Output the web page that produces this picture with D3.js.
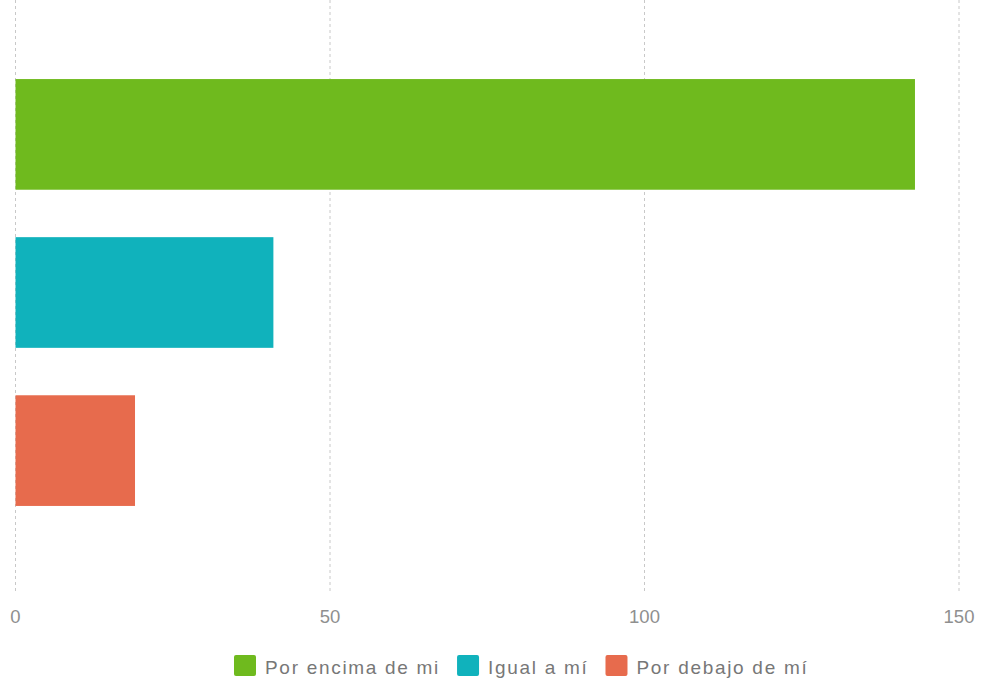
<!DOCTYPE html>
<head>
  <meta charset="utf-8">
  <script src="https://d3js.org/d3.v7.min.js"></script>
</head>
<style>
  body { margin: 0; background: #fff; font-family: "Liberation Sans", Arial, sans-serif; }
  .grid line { stroke: #c8c8c8; stroke-dasharray: 3,3; }
  .ticks text { fill: #8f8f8f; font-size: 18.5px; }
  .legend text { fill: #777; font-size: 19px; letter-spacing: 1.7px; }
</style>
<body>
<div id="chart"></div>
<script>
var categories = ["Por encima de mi", "Igual a mí", "Por debajo de mí"];
var values = [143, 41, 19];
var colors = ["#6fba1e", "#10b2bc", "#e76b4d"];
var xTicks = [0, 50, 100, 150];

var width = 981, height = 681;
var left = 15.5, right = 959, plotTop = 0, plotBottom = 593;

var svg = d3.select("#chart").append("svg")
  .attr("width", width).attr("height", height);

var x = d3.scaleLinear().domain([0, 150]).range([left, right]);
var y = d3.scaleBand().domain(categories).range([plotTop, 585]).paddingInner(0.3).paddingOuter(0.5);

// dashed vertical grid
svg.append("g").attr("class", "grid")
  .selectAll("line").data(xTicks).enter().append("line")
  .attr("x1", d => x(d)).attr("x2", d => x(d))
  .attr("y1", plotTop).attr("y2", plotBottom);

// tick labels
svg.append("g").attr("class", "ticks")
  .selectAll("text").data(xTicks).enter().append("text")
  .attr("x", d => x(d)).attr("y", 623)
  .attr("text-anchor", "middle")
  .text(d => d);

// bars
svg.append("g").selectAll("rect").data(values).enter().append("rect")
  .attr("x", x(0))
  .attr("y", (d, i) => y(categories[i]))
  .attr("width", d => x(d) - x(0))
  .attr("height", y.bandwidth())
  .attr("fill", (d, i) => colors[i]);

// legend, laid out left to right
var legend = svg.append("g").attr("class", "legend");
var lx = 234;
categories.forEach(function(c, i) {
  var g = legend.append("g").attr("transform", "translate(" + lx + ",655)");
  g.append("rect").attr("width", 22).attr("height", 21).attr("rx", 2).attr("fill", colors[i]);
  var t = g.append("text").attr("x", 31).attr("y", 19).text(c);
  lx += 31 + t.node().getComputedTextLength() + 17;
});
</script>
</body>
